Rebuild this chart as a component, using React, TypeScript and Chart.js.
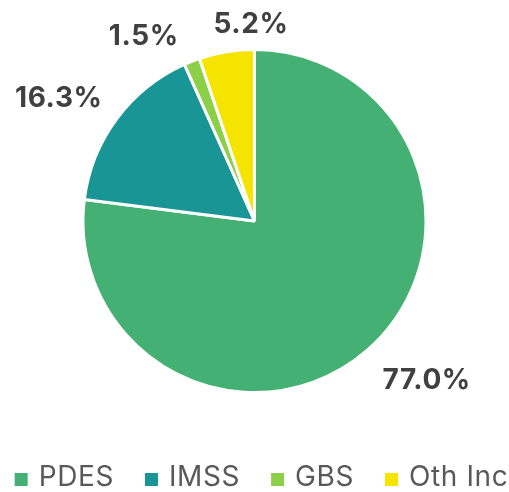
import React, { useEffect, useRef } from "react";
import { Chart, registerables } from "chart.js";

Chart.register(...registerables);

const categories = ["PDES", "IMSS", "GBS", "Oth Inc"];
const shares = [77.0, 16.3, 1.5, 5.2];
const sliceColors = ["#44B073", "#1A9595", "#8CD04A", "#F5E400"];

const outerLabels = {
  id: "outerLabels",
  afterDatasetsDraw(chart: any, _args: any, opts: any) {
    const ctx = chart.ctx;
    const meta = chart.getDatasetMeta(0);
    const values = chart.data.datasets[0].data;
    ctx.save();
    ctx.font = opts.font;
    if ("letterSpacing" in ctx) (ctx as any).letterSpacing = opts.letterSpacing;
    ctx.fillStyle = opts.color;
    ctx.textBaseline = "middle";
    ctx.textAlign = "center";
    meta.data.forEach((arc: any, i: number) => {
      const p = arc.getProps(["x", "y", "startAngle", "endAngle", "outerRadius"], true);
      const mid = (p.startAngle + p.endAngle) / 2;
      const dx = Math.cos(mid);
      const dy = Math.sin(mid);
      const r = p.outerRadius + opts.gap;
      const ax = p.x + dx * r;
      const ay = p.y + dy * r;
      const text = Number(values[i]).toFixed(1) + "%";
      const w = ctx.measureText(text).width;
      const cx = ax + (dx >= 0 ? w / 2 : -w / 2);
      const cy = ay + (dy * opts.height) / 2;
      const n = (opts.nudge && opts.nudge[i]) || [0, 0];
      ctx.fillText(text, cx + n[0], cy + n[1]);
    });
    ctx.restore();
  },
};

const bottomLegend = {
  id: "bottomLegend",
  afterDraw(chart: any, _args: any, opts: any) {
    const ctx = chart.ctx;
    const labels: string[] = chart.data.labels;
    const colors: string[] = chart.data.datasets[0].backgroundColor;
    ctx.save();
    ctx.font = opts.font;
    if ("letterSpacing" in ctx) (ctx as any).letterSpacing = opts.letterSpacing;
    ctx.textBaseline = "middle";
    ctx.textAlign = "left";
    const widths = labels.map((l) => ctx.measureText(l).width);
    const total =
      widths.reduce((a, b) => a + b, 0) +
      labels.length * (opts.box + opts.textGap) +
      (labels.length - 1) * opts.itemGap;
    let x = chart.width / 2 - total / 2 + opts.xShift;
    labels.forEach((l, i) => {
      ctx.fillStyle = colors[i];
      ctx.fillRect(x, opts.y - opts.box / 2, opts.box, opts.box);
      ctx.fillStyle = opts.color;
      ctx.fillText(l, x + opts.box + opts.textGap, opts.textY);
      x += opts.box + opts.textGap + widths[i] + opts.itemGap;
    });
    ctx.restore();
  },
};

export default function App() {
  const ref = useRef<HTMLCanvasElement | null>(null);
  useEffect(() => {
    if (!ref.current) return;
    const chart = new Chart(ref.current, {
      type: "pie",
      data: {
        labels: categories,
        datasets: [
          {
            data: shares,
            backgroundColor: sliceColors,
            borderColor: "#FFFFFF",
            borderWidth: 3,
          },
        ],
      },
      options: {
        responsive: false,
        animation: false,
        layout: { padding: { top: 48, left: 0, right: 0, bottom: 98 } },
        plugins: {
          tooltip: { enabled: false },
          legend: { display: false },
          outerLabels: {
            font: "bold 28px Inter",
            letterSpacing: "0.6px",
            color: "#404040",
            gap: 25,
            height: 20,
            nudge: [[-2, 5], [6, 1], [-4, 8], [66, 7]],
          },
          bottomLegend: {
            font: "28px Inter",
            letterSpacing: "0.6px",
            color: "#595959",
            box: 13,
            textGap: 11,
            itemGap: 31,
            y: 479.5,
            textY: 478,
            xShift: 7,
          },
        } as any,
      },
      plugins: [outerLabels, bottomLegend],
    } as any);
    return () => chart.destroy();
  }, []);
  return (
    <div style={{ position: "fixed", left: 0, top: 0, width: 509, height: 492, background: "#fff" }}>
      <canvas ref={ref} width={509} height={492} />
    </div>
  );
}
